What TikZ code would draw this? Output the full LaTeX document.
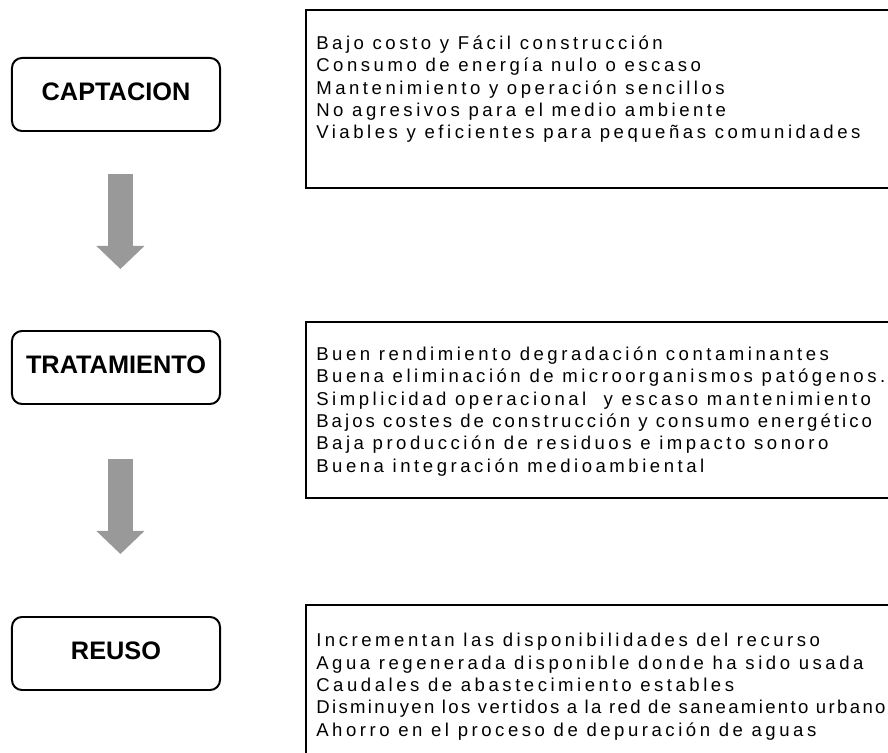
\documentclass[tikz,border=0pt]{standalone}
\usepackage{fontspec}
\setmainfont{Liberation Sans}
\newfontfamily\listfont[LetterSpace=19]{Liberation Sans}
\newfontfamily\snugfont[LetterSpace=16.5]{Liberation Sans}
\newfontfamily\tightfont[LetterSpace=12.7]{Liberation Sans}
\usetikzlibrary{arrows.meta}
\definecolor{arrowgray}{RGB}{153,153,153}
\tikzset{
    stage/.style={draw, line width=1.4pt, rounded corners=0.25cm, minimum width=5.2cm, minimum height=1.825cm,
        font=\bfseries\fontsize{18}{20}\selectfont, text height=0.9em, text depth=0pt},
    infobox/.style={draw, line width=1.4pt},
    infotext/.style={anchor=north west, inner sep=0pt, align=left, font=\listfont\fontsize{13.2}{15.9}\selectfont},
    flow/.style={draw=arrowgray, line width=0.625cm, -{Triangle[length=0.575cm, width=1.2cm, line width=0pt]}}
}

\begin{document}
\begin{tikzpicture}[x=0.025cm, y=-0.025cm]
    \useasboundingbox(0, 0) rectangle (888, 753);
    \clip(0, 0) rectangle (888, 753);
    % stages on the left
    \node[stage](cap)at(116, 94.5){CAPTACION};
    \node[stage](trat)at(116, 367.5){TRATAMIENTO};
    \node[stage](reuso)at(116, 653.5){REUSO};
    \draw[flow, shorten <=1.05cm, shorten >=1.525cm]([xshift=0.11cm]cap.south)--([xshift=0.11cm]trat.north);
    \draw[flow, shorten <=1.35cm, shorten >=1.55cm]([xshift=0.11cm]trat.south)--([xshift=0.11cm]reuso.north);
    % lists on the right
    \draw[infobox](306, 10) rectangle (900, 188);
    \draw[infobox](306, 322) rectangle (900, 498);
    \draw[infobox](306, 605) rectangle (900, 780);
    \node[infotext](captxt)at(316, 35.5){Bajo costo y Fácil construcción\\
        Consumo de energía nulo o escaso\\
        Mantenimiento y operación sencillos\\
        No agresivos para el medio ambiente\\
        Viables y eficientes para pequeñas comunidades};
    \node[infotext](trattxt)at(316, 346.5){Buen rendimiento degradación contaminantes\\
        Buena eliminación de microorganismos patógenos.\\
        Simplicidad operacional~ y escaso mantenimiento\\
        {\snugfont Bajos costes de construcción y consumo energético}\\
        Baja producción de residuos e impacto sonoro\\
        Buena integración medioambiental};
    \node[infotext](reusotxt)at(316, 633){Incrementan las disponibilidades del recurso\\
        Agua regenerada disponible donde ha sido usada\\
        Caudales de abastecimiento estables\\
        {\tightfont Disminuyen los vertidos a la red de saneamiento urbano}\\
        Ahorro en el proceso de depuración de aguas};
\end{tikzpicture}
\end{document}
